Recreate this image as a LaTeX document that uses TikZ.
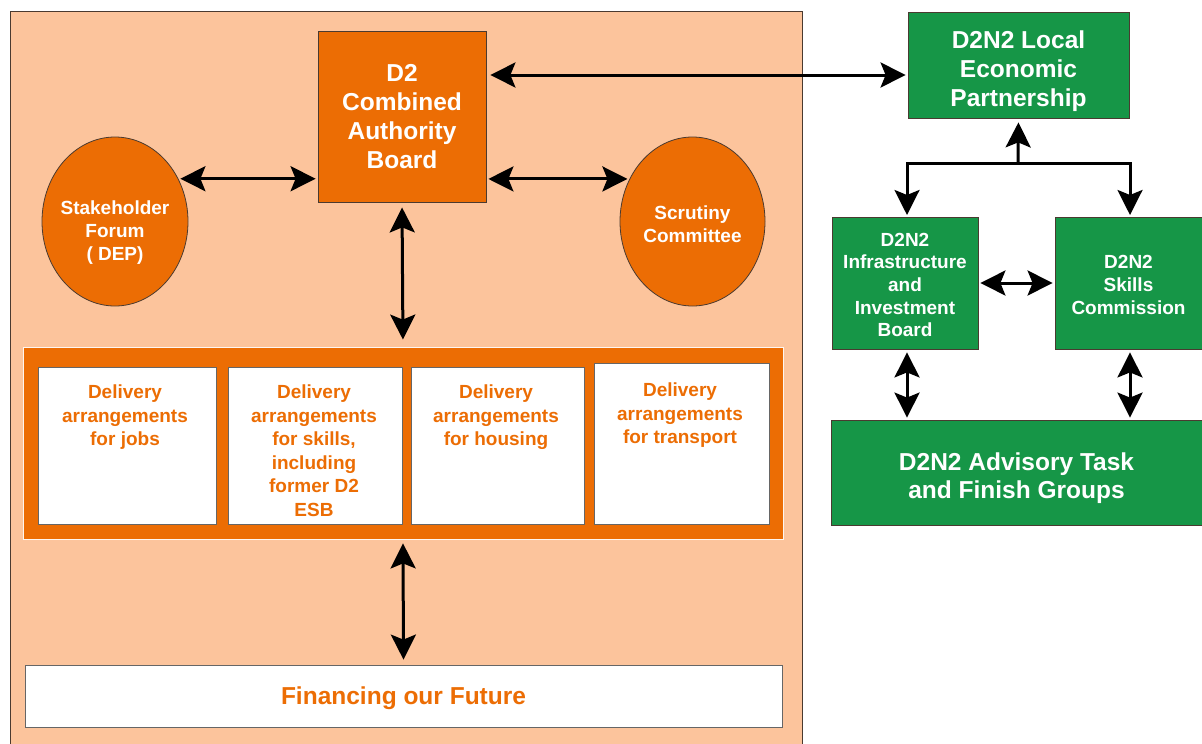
\documentclass[tikz,border=0pt]{standalone}
\usepackage{fontspec}
\setmainfont{Liberation Sans}
\usetikzlibrary{arrows.meta,shapes.geometric}
\definecolor{peach}{HTML}{FCC49C}
\definecolor{orng}{HTML}{EC6D04}
\definecolor{grn}{HTML}{169647}
\definecolor{edge}{HTML}{4A3A30}
\tikzset{
  arr/.style={line width=3pt,{Stealth[length=25pt,width=25pt,inset=5pt]}-{Stealth[length=25pt,width=25pt,inset=5pt]}},
  arrE/.style={line width=3pt,-{Stealth[length=25pt,width=25pt,inset=5pt]}},
  obox/.style={draw=edge,line width=0.8pt,fill=orng,inner sep=0pt,text=white,align=center},
  oell/.style={ellipse,draw=edge,line width=0.8pt,fill=orng,inner sep=0pt,text=white,align=center},
  gbox/.style={draw=edge,line width=0.8pt,fill=grn,inner sep=0pt,text=white,align=center},
  wbox/.style={draw=black!60,line width=0.8pt,fill=white,inner sep=0pt},
  wtext/.style={text=white,align=center,inner sep=0pt},
  small/.style={font=\bfseries\fontsize{19}{23}\selectfont},
  big/.style={font=\bfseries\fontsize{24.5}{29}\selectfont},
  dtext/.style={text=orng,align=center,inner sep=0pt,anchor=north,font=\bfseries\fontsize{19}{23.5}\selectfont}
}
\begin{document}
\begin{tikzpicture}[x=1pt,y=-1pt]
\useasboundingbox (0,0) rectangle (1202,744);
% peach panel
\fill[white] (0,0) rectangle (1202,744);
\draw[fill=peach,draw=edge,line width=0.8pt] (10,11) rectangle (802,760);
% board
\node[obox,big,minimum width=168pt,minimum height=171pt] (board) at (402,116.5) {D2\\Combined\\Authority\\Board};
% ellipses
\node[oell,minimum width=146pt,minimum height=169pt] (sf) at (115,221.5) {};
\node[wtext,small] (sft) at (115,233) {Stakeholder\\Forum\\( DEP)};
\node[oell,minimum width=145pt,minimum height=169pt] (sc) at (692.5,221.5) {};
\node[wtext,small] (sct) at (692.5,224) {Scrutiny\\Committee};
% delivery
\node[draw=white!85!peach,line width=0.8pt,fill=orng,minimum width=760pt,minimum height=192pt,inner sep=0pt] (del) at (403,443) {};
\node[wbox,minimum width=178pt,minimum height=157pt] (d1) at (127,445.5) {};
\node[wbox,minimum width=174pt,minimum height=157pt] (d2) at (315,445.5) {};
\node[wbox,minimum width=173pt,minimum height=157pt] (d3) at (497.5,445.5) {};
\node[wbox,minimum width=175pt,minimum height=161pt] (d4) at (681.5,443.5) {};
\node[dtext] (t1) at (125,385) {Delivery\\arrangements\\for jobs};
\node[dtext] (t2) at (314,385) {Delivery\\arrangements\\for skills,\\including\\former D2\\ESB};
\node[dtext] (t3) at (496,385) {Delivery\\arrangements\\for housing};
\node[dtext] (t4) at (680,383) {Delivery\\arrangements\\for transport};
% financing
\node[wbox,minimum width=757pt,minimum height=62pt] (fin) at (403.5,696) {};
\node[text=orng,inner sep=0pt,big] (fint) at (403.5,698) {Financing our Future};
% green
\node[gbox,minimum width=221pt,minimum height=106pt] (lep) at (1018.5,65) {};
\node[wtext,big] (lept) at (1018.5,71) {D2N2 Local\\Economic\\Partnership};
\node[gbox,minimum width=146pt,minimum height=132pt] (inf) at (905,283) {};
\node[wtext,font=\bfseries\fontsize{19}{22.7}\selectfont] (inft) at (905,285) {D2N2\\Infrastructure\\and\\Investment\\Board};
\node[gbox,minimum width=147pt,minimum height=132pt] (sk) at (1128.5,283) {};
\node[wtext,font=\bfseries\fontsize{19}{22.7}\selectfont] (skt) at (1128.5,285) {D2N2\\Skills\\Commission};
\node[gbox,minimum width=371pt,minimum height=105pt] (adv) at (1016.5,472.5) {};
\node[wtext,font=\bfseries\fontsize{24.5}{28}\selectfont] (advt) at (1016.5,478) {D2N2 Advisory Task\\and Finish Groups};
% connectors
\draw[arr,shorten <=2pt,shorten >=2pt] (sf.34) -- (board.west |- sf.34);
\draw[arr,shorten <=2pt,shorten >=2pt] (board.east |- sc.146) -- (sc.146);
\coordinate (c75) at (0,75);
\draw[arr,shorten <=4pt,shorten >=2pt] (board.east |- c75) -- (lep.west |- c75);
\draw[arr,shorten <=5pt,shorten >=7pt] (board.south) -- (del.north);
\draw[arr,shorten <=4pt,shorten >=5pt] (del.south) -- (fin.north);
\coordinate (j) at (1018,163);
\draw[arrE,shorten >=4pt] (j) -- (lep.south);
\coordinate (ia) at (907,217);
\coordinate (sa) at (1130,217);
\draw[arr,shorten <=2pt,shorten >=2pt] (ia) |- (j) -| (sa);
\draw[arr,shorten <=2pt,shorten >=2pt] (inf.east) -- (sk.west);
\draw[arr,shorten <=3pt,shorten >=2pt] (ia |- inf.south) -- (ia |- adv.north);
\draw[arr,shorten <=3pt,shorten >=2pt] (sa |- sk.south) -- (sa |- adv.north);
\end{tikzpicture}
\end{document}
